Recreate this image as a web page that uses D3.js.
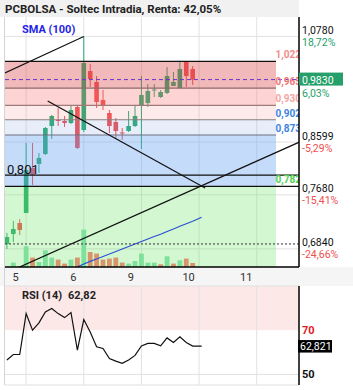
<!DOCTYPE html>
<html>
<head>
<meta charset="utf-8">
<script src="https://cdn.jsdelivr.net/npm/d3@7"></script>
<style>
  body { margin: 0; background: #fff; }
  svg { display: block; font-family: Roboto, "Open Sans", sans-serif; }
</style>
</head>
<body>
<div id="chart"></div>
<script>
// hourly bars, index 0 = first bar of day 5 (9 bars per day)
var candleIdx = d3.range(-3, 27);
var opens  = [0.6913, 0.7062, 0.7231, 0.7387, 0.8135, 0.8205, 0.8382, 0.8900, 0.9015, 0.8996,
              0.8957, 0.9270, 0.8824, 1.0012, 0.9779, 0.9410, 0.9151, 0.8977, 0.8777, 0.8805,
              0.8900, 0.9309, 0.9349, 0.9603, 0.9470, 0.9552, 0.9696, 0.9654, 1.0207, 1.0055];
var highs  = [0.7078, 0.7262, 0.7293, 0.8582, 0.8582, 0.8400, 0.8881, 0.9112, 0.9250, 0.9093,
              0.9289, 0.9289, 1.0780, 1.0164, 0.9906, 0.9613, 0.9210, 0.9054, 0.8862, 0.9190,
              0.9309, 0.9906, 0.9737, 0.9737, 0.9613, 1.0098, 0.9991, 1.0207, 1.0229, 1.0120];
var lows   = [0.6839, 0.6942, 0.7047, 0.7387, 0.7844, 0.8048, 0.8364, 0.8656, 0.8900, 0.8881,
              0.8938, 0.8472, 0.8786, 0.9675, 0.9250, 0.9210, 0.8768, 0.8656, 0.8637, 0.8786,
              0.8881, 0.8472, 0.9270, 0.9470, 0.9450, 0.9531, 0.9696, 0.9654, 0.9675, 0.9717];
var closes = [0.7017, 0.7138, 0.7123, 0.8100, 0.8014, 0.8311, 0.8862, 0.9093, 0.8996, 0.8957,
              0.9210, 0.8491, 1.0185, 0.9842, 0.9369, 0.9289, 0.8900, 0.8805, 0.8758, 0.8900,
              0.9093, 0.9511, 0.9593, 0.9624, 0.9572, 0.9906, 0.9779, 1.0055, 0.9906, 0.9830];
var volumes = [1, 44, 3, 207, 94, 50, 167, 94, 74, 34, 74, 94, 374, 150, 134, 74, 84, 94, 44, 34,
               60, 134, 44, 44, 27, 107, 34, 67, 84, 40];

var smaIdx = [8, 9, 10, 11, 12, 13, 14, 15, 16, 17, 18, 19, 20, 21, 22, 23, 24, 25, 26, 27.4];
var smaValues = [0.6582, 0.6623, 0.6659, 0.6694, 0.6730, 0.6766, 0.6803, 0.6839, 0.6876, 0.6913,
                 0.6950, 0.6987, 0.7025, 0.7058, 0.7099, 0.7138, 0.7180, 0.7218, 0.7257, 0.7320];

var rsiIdx = d3.range(-3, 27).concat([27.4]);
var rsiValues = [56.5, 59.0, 59.0, 77.5, 70.0, 73.3, 78.3, 79.8, 77.5, 75.7, 78.0, 61.0, 74.8, 69.2,
                 62.5, 61.7, 57.2, 56.0, 55.0, 56.5, 58.6, 62.9, 64.0, 64.0, 62.9, 66.5, 64.4, 67.0,
                 64.4, 62.82, 62.82];

var dayLabels = ["5", "6", "9", "10", "11"];
var dayStart = [0, 9, 18, 27, 36];

var fibLevels = [1.022, 0.965, 0.930, 0.902, 0.873, 0.782];
var fibLabels = ["1,022", "0,965", "0,930", "0,902", "0,873", "0,782"];

var axisLevels = [1.078, 0.8599, 0.768, 0.684];
var axisLabels = ["1,0780", "0,8599", "0,7680", "0,6840"];
var axisPct = ["18,72%", "-5,29%", "-15,41%", "-24,66%"];

var lastPrice = 0.983, lastPriceLabel = "0,9830", lastPct = "6,03%";
var supportLevel = 0.6913, supportLabel = "0,801", supportLine = 0.801;
var lastRsi = 62.821;

// trend lines as [index, price] pairs
var trendUpper = [[-3.31, 0.997], [9, 1.078]];
var trendDown = [[3.36, 0.9389], [27.94, 0.7794]];
var trendUp = [[-1.23, 0.6571], [42.67, 0.8599]];

var width = 353, height = 390;
var plotL = 5, plotR = 299, plotT = 17, plotB = 267;
var rsiTop = 286, rsiBottom = 385;
var zoneRight = 276;

var svg = d3.select("#chart").append("svg")
    .attr("width", width)
    .attr("height", height);

var x = d3.scaleLinear().domain([-3.3, 42.6]).range([plotL, plotR]);
var y = d3.scaleLog().domain([0.658, 1.124]).range([plotB, plotT]);
var vol = d3.scaleLinear().domain([0, 374]).range([plotB, plotB - 37.4]);
var rsiY = d3.scaleLinear().domain([45.2, 90]).range([rsiBottom, rsiTop]);

svg.append("defs").append("clipPath").attr("id", "plotClip")
  .append("rect").attr("x", plotL).attr("y", plotT).attr("width", plotR - plotL).attr("height", plotB - plotT);

// Title bar + x strip
svg.append("rect").attr("x", 0).attr("y", 0).attr("width", plotR).attr("height", plotT).attr("fill", "#f1f1f1");
svg.append("rect").attr("x", 0).attr("y", plotB).attr("width", width).attr("height", rsiTop - plotB).attr("fill", "#f5f5f5");

svg.append("text").attr("x", 5).attr("y", 12.5)
  .style("font-size", "11.5px").style("font-weight", 700).style("fill", "#222")
  .text("PCBOLSA - Soltec Intradia, Renta: 42,05%");

var main = svg.append("g").attr("clip-path", "url(#plotClip)");

// gridlines
main.selectAll(".vgrid").data(dayStart).enter().append("line")
  .attr("x1", d => x(d)).attr("x2", d => x(d)).attr("y1", plotT).attr("y2", plotB)
  .attr("stroke", "#e2e2e2");
main.selectAll(".hgrid").data(axisLevels).enter().append("line")
  .attr("x1", plotL).attr("x2", plotR).attr("y1", d => y(d)).attr("y2", d => y(d))
  .attr("stroke", "#e2e2e2");

// candles
var candles = candleIdx.map(function(i, k) {
  return {i: i, o: opens[k], h: highs[k], l: lows[k], c: closes[k], v: volumes[k],
          prev: k > 0 ? closes[k - 1] : opens[k]};
});
var upCol = "#26aa6f", downCol = "#f04d4d";

main.selectAll(".wick").data(candles).enter().append("line")
  .attr("x1", d => x(d.i)).attr("x2", d => x(d.i))
  .attr("y1", d => y(d.h)).attr("y2", d => y(d.l))
  .attr("stroke", d => d.c >= d.o ? upCol : downCol).attr("stroke-width", 1);
main.selectAll(".body").data(candles).enter().append("rect")
  .attr("x", d => x(d.i) - 2.3).attr("width", 4.6)
  .attr("y", d => y(Math.max(d.o, d.c)))
  .attr("height", d => Math.max(1, Math.abs(y(d.o) - y(d.c))))
  .attr("fill", d => d.c >= d.o ? upCol : downCol);

// fibonacci zones drawn over the candles
var zoneBounds = [1.022, 0.965, 0.930, 0.902, 0.873, 0.782, 0.6];
var zoneColors = ["rgba(220,80,80,0.4)", "rgba(250,110,110,0.3)", "rgba(245,130,130,0.17)",
                  "rgba(120,160,230,0.18)", "rgba(100,160,240,0.38)", "rgba(110,230,100,0.3)"];
main.selectAll(".zone").data(zoneColors).enter().append("rect")
  .attr("x", plotL).attr("width", zoneRight - plotL)
  .attr("y", (d, k) => y(zoneBounds[k]))
  .attr("height", (d, k) => y(zoneBounds[k + 1]) - y(zoneBounds[k]))
  .attr("fill", d => d);

var fibLineCol = ["#111", "#8f6a6a", "#a07a7a", "#8a7f80", "#6f7080", "#111"];
main.selectAll(".fibline").data(fibLevels).enter().append("line")
  .attr("x1", plotL).attr("x2", (d, k) => k == 5 ? plotR : zoneRight)
  .attr("y1", d => y(d)).attr("y2", d => y(d))
  .attr("stroke", (d, k) => fibLineCol[k]).attr("stroke-width", 1.2);
main.append("line")
  .attr("x1", plotL).attr("x2", plotR).attr("y1", y(supportLine)).attr("y2", y(supportLine))
  .attr("stroke", "#111").attr("stroke-width", 1.2);

// volume
main.selectAll(".vol").data(candles).enter().append("rect")
  .attr("x", d => x(d.i) - 2.4).attr("width", 4.8)
  .attr("y", d => vol(d.v)).attr("height", d => plotB - vol(d.v))
  .attr("fill", d => d.c >= d.prev ? "#7de19b" : "#d8956b");

// SMA
var line = d3.line().x(d => x(d[0])).y(d => y(d[1]));
main.append("path")
  .attr("d", line(smaIdx.map((i, k) => [i, smaValues[k]])))
  .attr("fill", "none").attr("stroke", "#2b4fd6").attr("stroke-width", 1.2);

// trend lines
[trendUpper, trendDown, trendUp].forEach(function(t) {
  main.append("path").attr("d", line(t))
    .attr("fill", "none").attr("stroke", "#111").attr("stroke-width", 1.2);
});

// dashed levels
main.append("line")
  .attr("x1", plotL).attr("x2", plotR).attr("y1", y(lastPrice)).attr("y2", y(lastPrice))
  .attr("stroke", "#6a35c8").attr("stroke-dasharray", "4,3");
main.append("line")
  .attr("x1", plotL).attr("x2", plotR).attr("y1", y(supportLevel)).attr("y2", y(supportLevel))
  .attr("stroke", "#333").attr("stroke-dasharray", "2,2");

// fib labels (clipped at the axis)
var fibTextCol = ["#f28b8b", "#ee7676", "#f4a3a3", "#3c84e2", "#3c84e2", "#4fd24f"];
main.selectAll(".fiblab").data(fibLevels).enter().append("text")
  .attr("x", zoneRight - 0.5).attr("y", d => y(d) - 3)
  .style("font-size", "10px").style("font-weight", 700)
  .style("fill", (d, k) => fibTextCol[k])
  .text((d, k) => fibLabels[k]);

main.append("text").attr("x", 7).attr("y", y(supportLine) - 1)
  .style("font-size", "13px").style("fill", "#111")
  .text(supportLabel);

main.append("text").attr("x", 22).attr("y", 33)
  .style("font-size", "11px").style("font-weight", 700).style("fill", "#2424e6")
  .text("SMA (100)");

// frame / axis lines
svg.append("line").attr("x1", 4.5).attr("x2", 4.5).attr("y1", plotT).attr("y2", rsiBottom).attr("stroke", "#d4d4d4");
svg.append("line").attr("x1", plotR).attr("x2", plotR).attr("y1", plotT).attr("y2", plotB).attr("stroke", "#000").attr("stroke-width", 1.5);
svg.append("line").attr("x1", plotL).attr("x2", plotR).attr("y1", plotB).attr("y2", plotB).attr("stroke", "#000").attr("stroke-width", 1.5);

// right axis labels
var rl = svg.append("g");
axisLevels.forEach(function(v, k) {
  rl.append("text").attr("x", 302).attr("y", y(v) - 2.5)
    .style("font-size", "10.5px").style("fill", "#111").text(axisLabels[k]);
  rl.append("text").attr("x", 302).attr("y", y(v) + 9.5)
    .style("font-size", "10.5px").style("fill", k == 0 ? "#26a06a" : "#f05050").text(axisPct[k]);
});
svg.append("text").attr("x", 302).attr("y", y(lastPrice) + 17)
  .style("font-size", "10.5px").style("fill", "#26a06a").text(lastPct);
svg.append("rect").attr("x", 299).attr("y", y(lastPrice) - 7).attr("width", 44).attr("height", 13)
  .attr("fill", "#26a06a");
svg.append("text").attr("x", 302).attr("y", y(lastPrice) + 4)
  .style("font-size", "10.5px").style("fill", "#fff").text(lastPriceLabel);

// day labels
svg.selectAll(".day").data(dayStart).enter().append("text")
  .attr("x", d => x(d) - 10.5).attr("y", 281)
  .attr("text-anchor", "middle")
  .style("font-size", "11px").style("fill", "#333")
  .text((d, k) => dayLabels[k]);

// RSI panel
svg.append("rect").attr("x", plotL).attr("y", rsiTop).attr("width", plotR - plotL).attr("height", rsiY(70) - rsiTop)
  .attr("fill", "#fde8e8");
svg.append("line").attr("x1", plotL).attr("x2", plotR).attr("y1", rsiTop).attr("y2", rsiTop).attr("stroke", "#e0e0e0");
svg.append("line").attr("x1", plotL).attr("x2", plotR).attr("y1", rsiY(50)).attr("y2", rsiY(50)).attr("stroke", "#e0e0e0");
svg.append("line").attr("x1", plotL).attr("x2", plotR).attr("y1", rsiBottom).attr("y2", rsiBottom).attr("stroke", "#e0e0e0");
svg.selectAll(".rgrid").data(dayStart).enter().append("line")
  .attr("x1", d => x(d)).attr("x2", d => x(d)).attr("y1", rsiTop).attr("y2", rsiBottom)
  .attr("stroke", "#e2e2e2");
svg.append("line").attr("x1", plotR).attr("x2", plotR).attr("y1", rsiTop).attr("y2", rsiBottom)
  .attr("stroke", "#000").attr("stroke-width", 1.5);

var rsiLine = d3.line().x(d => x(d[0])).y(d => rsiY(d[1]));
svg.append("path")
  .attr("d", rsiLine(rsiIdx.map((i, k) => [i, rsiValues[k]])))
  .attr("fill", "none").attr("stroke", "#111").attr("stroke-width", 1.2);

svg.append("text").attr("x", 22).attr("y", 299)
  .style("font-size", "11px").style("font-weight", 700).style("fill", "#222")
  .text("RSI (14)");
svg.append("text").attr("x", 68).attr("y", 299)
  .style("font-size", "11px").style("font-weight", 700).style("fill", "#222")
  .text("62,82");

svg.append("text").attr("x", 302).attr("y", rsiY(70) + 4)
  .style("font-size", "11px").style("font-weight", 700).style("fill", "#e21b1b").text("70");
svg.append("text").attr("x", 302).attr("y", rsiY(50) + 4)
  .style("font-size", "11px").style("font-weight", 700).style("fill", "#111").text("50");
svg.append("rect").attr("x", 298).attr("y", rsiY(lastRsi) - 6).attr("width", 34).attr("height", 12.5)
  .attr("fill", "#000");
svg.append("text").attr("x", 300).attr("y", rsiY(lastRsi) + 4)
  .style("font-size", "10.5px").style("fill", "#fff").text("62,821");
</script>
</body>
</html>
